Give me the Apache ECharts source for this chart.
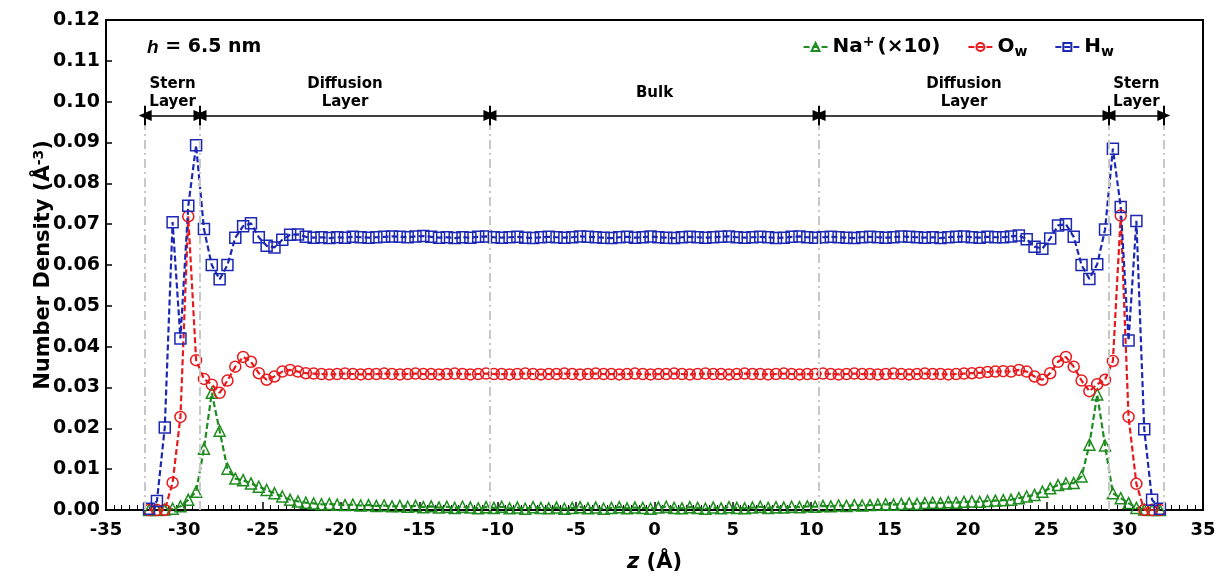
<!DOCTYPE html>
<html>
<head>
<meta charset="utf-8">
<script src="https://cdn.jsdelivr.net/npm/echarts@6/dist/echarts.min.js"></script>
<style>
  html, body { margin: 0; padding: 0; background: #fff; }
  #main { width: 1219px; height: 578px; }
</style>
</head>
<body>
<div id="main"></div>
<script>
var myChart = echarts.init(document.getElementById('main'));

// bin centres z (Å)
var zValues = [
  -32.25, -31.75, -31.25, -30.75, -30.25, -29.75, -29.25, -28.75, -28.25, -27.75,
  -27.25, -26.75, -26.25, -25.75, -25.25, -24.75, -24.25, -23.75, -23.25, -22.75,
  -22.25, -21.75, -21.25, -20.75, -20.25, -19.75, -19.25, -18.75, -18.25, -17.75,
  -17.25, -16.75, -16.25, -15.75, -15.25, -14.75, -14.25, -13.75, -13.25, -12.75,
  -12.25, -11.75, -11.25, -10.75, -10.25, -9.75, -9.25, -8.75, -8.25, -7.75,
  -7.25, -6.75, -6.25, -5.75, -5.25, -4.75, -4.25, -3.75, -3.25, -2.75,
  -2.25, -1.75, -1.25, -0.75, -0.25, 0.25, 0.75, 1.25, 1.75, 2.25,
  2.75, 3.25, 3.75, 4.25, 4.75, 5.25, 5.75, 6.25, 6.75, 7.25,
  7.75, 8.25, 8.75, 9.25, 9.75, 10.25, 10.75, 11.25, 11.75, 12.25,
  12.75, 13.25, 13.75, 14.25, 14.75, 15.25, 15.75, 16.25, 16.75, 17.25,
  17.75, 18.25, 18.75, 19.25, 19.75, 20.25, 20.75, 21.25, 21.75, 22.25,
  22.75, 23.25, 23.75, 24.25, 24.75, 25.25, 25.75, 26.25, 26.75, 27.25,
  27.75, 28.25, 28.75, 29.25, 29.75, 30.25, 30.75, 31.25, 31.75, 32.25
];

// Na+ (x10)
var naValues = [
  0, 0, 0.0001, 0.0003, 0.0009, 0.0025, 0.0045, 0.0150, 0.0287, 0.0194,
  0.0101, 0.0077, 0.0073, 0.0065, 0.0057, 0.0049, 0.0041, 0.0033, 0.0025, 0.0021,
  0.0018, 0.0016, 0.0014, 0.0015, 0.0013, 0.0012, 0.0013, 0.0011, 0.0012, 0.0010,
  0.0011, 0.0009, 0.0010, 0.0008, 0.0010, 0.0007, 0.0009, 0.0006, 0.0008, 0.0005,
  0.0008, 0.0006, 0.0004, 0.0007, 0.0005, 0.0008, 0.0004, 0.0006, 0.0003, 0.0007,
  0.0005, 0.0004, 0.0006, 0.0003, 0.0005, 0.0007, 0.0004, 0.0006, 0.0003, 0.0005,
  0.0007, 0.0004, 0.0006, 0.0005, 0.0003, 0.0006, 0.0008, 0.0005, 0.0004, 0.0007,
  0.0005, 0.0003, 0.0006, 0.0004, 0.0007, 0.0005, 0.0004, 0.0006, 0.0008, 0.0005,
  0.0007, 0.0006, 0.0008, 0.0007, 0.0009, 0.0008, 0.0010, 0.0009, 0.0011, 0.0010,
  0.0012, 0.0011, 0.0012, 0.0013, 0.0014, 0.0013, 0.0015, 0.0016, 0.0015, 0.0017,
  0.0018, 0.0017, 0.0019, 0.0018, 0.0020, 0.0021, 0.0020, 0.0022, 0.0023, 0.0024,
  0.0025, 0.0029, 0.0033, 0.0037, 0.0045, 0.0053, 0.0061, 0.0065, 0.0066, 0.0082,
  0.0160, 0.0283, 0.0158, 0.0041, 0.0029, 0.0017, 0.0005, 0.0001, 0, 0
];

// O_w
var owValues = [
  0, 0, 0, 0.0067, 0.0228, 0.0719, 0.0367, 0.0321, 0.0307, 0.0287,
  0.0317, 0.0351, 0.0375, 0.0363, 0.0335, 0.0319, 0.0327, 0.0339, 0.0343, 0.0339,
  0.0335, 0.0334, 0.0333, 0.0332, 0.0333, 0.0334, 0.0333, 0.0332, 0.0333, 0.0333,
  0.0334, 0.0333, 0.0332, 0.0333, 0.0334, 0.0333, 0.0333, 0.0332, 0.0333, 0.0334,
  0.0333, 0.0332, 0.0333, 0.0334, 0.0333, 0.0333, 0.0332, 0.0333, 0.0334, 0.0333,
  0.0332, 0.0333, 0.0333, 0.0334, 0.0333, 0.0332, 0.0333, 0.0334, 0.0333, 0.0333,
  0.0332, 0.0333, 0.0334, 0.0333, 0.0332, 0.0333, 0.0333, 0.0334, 0.0333, 0.0332,
  0.0333, 0.0334, 0.0333, 0.0333, 0.0332, 0.0333, 0.0334, 0.0333, 0.0333, 0.0332,
  0.0333, 0.0334, 0.0333, 0.0332, 0.0333, 0.0333, 0.0334, 0.0333, 0.0332, 0.0333,
  0.0334, 0.0333, 0.0333, 0.0332, 0.0333, 0.0334, 0.0333, 0.0332, 0.0333, 0.0334,
  0.0333, 0.0333, 0.0332, 0.0333, 0.0334, 0.0335, 0.0336, 0.0338, 0.0339, 0.0340,
  0.0339, 0.0343, 0.0339, 0.0327, 0.0319, 0.0335, 0.0363, 0.0375, 0.0351, 0.0317,
  0.0291, 0.0308, 0.0319, 0.0365, 0.0721, 0.0228, 0.0064, 0, 0, 0
];

// H_w
var hwValues = [
  0.0003, 0.0022, 0.0202, 0.0705, 0.0420, 0.0745, 0.0893, 0.0688, 0.0600, 0.0565,
  0.0600, 0.0667, 0.0695, 0.0702, 0.0668, 0.0647, 0.0643, 0.0662, 0.0674, 0.0675,
  0.0669, 0.0667, 0.0668, 0.0666, 0.0668, 0.0667, 0.0669, 0.0668, 0.0667, 0.0668,
  0.0669, 0.0670, 0.0669, 0.0668, 0.0670, 0.0671, 0.0669, 0.0667, 0.0668, 0.0666,
  0.0668, 0.0667, 0.0669, 0.0670, 0.0668, 0.0667, 0.0668, 0.0669, 0.0667, 0.0666,
  0.0668, 0.0669, 0.0668, 0.0667, 0.0668, 0.0670, 0.0669, 0.0668, 0.0667, 0.0666,
  0.0668, 0.0669, 0.0667, 0.0668, 0.0670, 0.0668, 0.0667, 0.0666, 0.0668, 0.0669,
  0.0668, 0.0667, 0.0668, 0.0669, 0.0670, 0.0668, 0.0667, 0.0668, 0.0669, 0.0668,
  0.0666, 0.0667, 0.0669, 0.0670, 0.0668, 0.0667, 0.0668, 0.0669, 0.0668, 0.0667,
  0.0666, 0.0668, 0.0669, 0.0668, 0.0667, 0.0668, 0.0670, 0.0669, 0.0668, 0.0667,
  0.0668, 0.0666, 0.0668, 0.0669, 0.0670, 0.0668, 0.0667, 0.0669, 0.0668, 0.0668,
  0.0670, 0.0672, 0.0663, 0.0645, 0.0640, 0.0665, 0.0697, 0.0700, 0.0669, 0.0600,
  0.0566, 0.0602, 0.0687, 0.0885, 0.0742, 0.0415, 0.0708, 0.0198, 0.0025, 0.0003
];

var xTicks = { min: -35, max: 35, step: 5 };
var yTicks = { min: 0, max: 0.12, step: 0.01 };

// region boundaries and labels
var boundaries = [-32.5, -29, -10.5, 10.5, 29, 32.5];
var regionNames = ['Stern\nLayer', 'Diffusion\nLayer', 'Bulk', 'Diffusion\nLayer', 'Stern\nLayer'];
var arrowLevel = 0.0966;
var labelLevel = 0.1022;

var colNa = '#1e8c1e', colO = '#e8191c', colH = '#1c28b4';
var fontName = 'DejaVu Sans, Liberation Sans, Arial, sans-serif';

function pairs(ys) {
    var out = [];
    for (let i = 0; i < zValues.length; i++) out.push([zValues[i], ys[i]]);
    return out;
}

function annotationLines() {
    var lines = [];
    // light grey dash-dot boundaries
    boundaries.forEach(function (b) {
        lines.push([
            { coord: [b, 0], symbol: 'none',
              lineStyle: { color: '#c8c8c8', width: 2, type: [9, 4, 2, 4] } },
            { coord: [b, arrowLevel], symbol: 'none' }
        ]);
    });
    // double arrows between boundaries
    for (let i = 0; i < boundaries.length - 1; i++) {
        lines.push([
            { coord: [boundaries[i], arrowLevel], symbol: 'triangle',
              lineStyle: { color: '#000', width: 1.5, type: 'solid' } },
            { coord: [boundaries[i + 1], arrowLevel], symbol: 'triangle' }
        ]);
    }
    // short bars at each boundary
    boundaries.forEach(function (b) {
        lines.push([
            { coord: [b, arrowLevel - 0.0024], symbol: 'none',
              lineStyle: { color: '#000', width: 2, type: 'solid' } },
            { coord: [b, arrowLevel + 0.0024], symbol: 'none' }
        ]);
    });
    return lines;
}

function regionLabels() {
    var pts = [];
    for (let i = 0; i < regionNames.length; i++) {
        pts.push({
            coord: [(boundaries[i] + boundaries[i + 1]) / 2, labelLevel],
            value: regionNames[i]
        });
    }
    return pts;
}

var legendText = {
    Na: 'Na{sup|+}(×10)',
    Ow: 'O{sub|w}',
    Hw: 'H{sub|w}'
};

var option = {
    animation: false,
    textStyle: { fontFamily: fontName },
    grid: {
        left: 106, right: 16, top: 20, bottom: 61,
        show: true, borderColor: '#000', borderWidth: 2
    },
    legend: {
        data: ['Na', 'Ow', 'Hw'],
        right: 100, top: 30,
        itemWidth: 24, itemHeight: 10, itemGap: 27,
        formatter: function (name) { return legendText[name]; },
        textStyle: {
            fontSize: 20, fontWeight: 'bold', color: '#000', fontFamily: fontName,
            rich: {
                sup: { fontSize: 14, fontWeight: 'bold', verticalAlign: 'bottom', padding: [0, 3, 10, 0] },
                sub: { fontSize: 14, fontWeight: 'bold', verticalAlign: 'top', padding: [10, 0, 0, 0] }
            }
        }
    },
    graphic: [{
        type: 'text', left: 147, top: 38, silent: true,
        style: {
            text: '{i|h} = 6.5 nm',
            font: 'bold 19px ' + fontName,
            fill: '#000',
            rich: { i: { fontStyle: 'italic', fontWeight: 'bold', fontSize: 19 } }
        }
    }],
    xAxis: {
        type: 'value',
        min: xTicks.min, max: xTicks.max, interval: xTicks.step,
        name: '{i|z} (Å)',
        nameLocation: 'middle', nameGap: 42,
        nameTextStyle: {
            fontSize: 21, fontWeight: 'bold', color: '#000',
            rich: { i: { fontStyle: 'italic', fontWeight: 'bold', fontSize: 21 } }
        },
        axisLine: { onZero: false, lineStyle: { color: '#000', width: 2 } },
        axisTick: { inside: true, length: 8, lineStyle: { color: '#000', width: 1.5 } },
        minorTick: { show: true, splitNumber: 10, length: 5, lineStyle: { color: '#000', width: 1 } },
        axisLabel: { fontSize: 18, fontWeight: 'bold', color: '#000', margin: 11 },
        splitLine: { show: false }
    },
    yAxis: {
        type: 'value',
        min: yTicks.min, max: yTicks.max, interval: yTicks.step,
        name: 'Number Density (Å{sup|-3})',
        nameLocation: 'middle', nameGap: 50,
        nameMoveOverlap: false,
        nameTextStyle: {
            fontSize: 21, fontWeight: 'bold', color: '#000',
            rich: { sup: { fontSize: 14, fontWeight: 'bold', verticalAlign: 'bottom', padding: [0, 0, 10, 0] } }
        },
        axisLine: { onZero: false, lineStyle: { color: '#000', width: 2 } },
        axisTick: { inside: true, length: 6, lineStyle: { color: '#000', width: 1.5 } },
        axisLabel: {
            fontSize: 19, fontWeight: 'bold', color: '#000', margin: 6,
            formatter: function (v) { return v.toFixed(2); }
        },
        splitLine: { show: false }
    },
    series: [
        {
            name: 'Na', type: 'line', data: pairs(naValues),
            symbol: 'triangle', symbolSize: 11,
            itemStyle: { color: 'rgba(0,0,0,0)', borderColor: colNa, borderWidth: 1.5 },
            lineStyle: { color: colNa, width: 2.2, type: [6, 3] },
            emphasis: { disabled: true },
            markLine: {
                silent: true, animation: false,
                symbolSize: [11, 13],
                label: { show: false },
                data: annotationLines()
            },
            markPoint: {
                silent: true, animation: false,
                symbol: 'circle', symbolSize: 0,
                label: {
                    show: true, position: 'inside',
                    formatter: function (p) { return p.value; },
                    fontSize: 15, fontWeight: 'bold', color: '#000', lineHeight: 18
                },
                data: regionLabels()
            }
        },
        {
            name: 'Ow', type: 'line', data: pairs(owValues),
            symbol: 'circle', symbolSize: 11,
            itemStyle: { color: 'rgba(0,0,0,0)', borderColor: colO, borderWidth: 1.5 },
            lineStyle: { color: colO, width: 2.2, type: [6, 3] },
            emphasis: { disabled: true }
        },
        {
            name: 'Hw', type: 'line', data: pairs(hwValues),
            symbol: 'rect', symbolSize: 11,
            itemStyle: { color: 'rgba(0,0,0,0)', borderColor: colH, borderWidth: 1.5 },
            lineStyle: { color: colH, width: 2.2, type: [6, 3] },
            emphasis: { disabled: true }
        }
    ]
};

myChart.setOption(option);
</script>
</body>
</html>
